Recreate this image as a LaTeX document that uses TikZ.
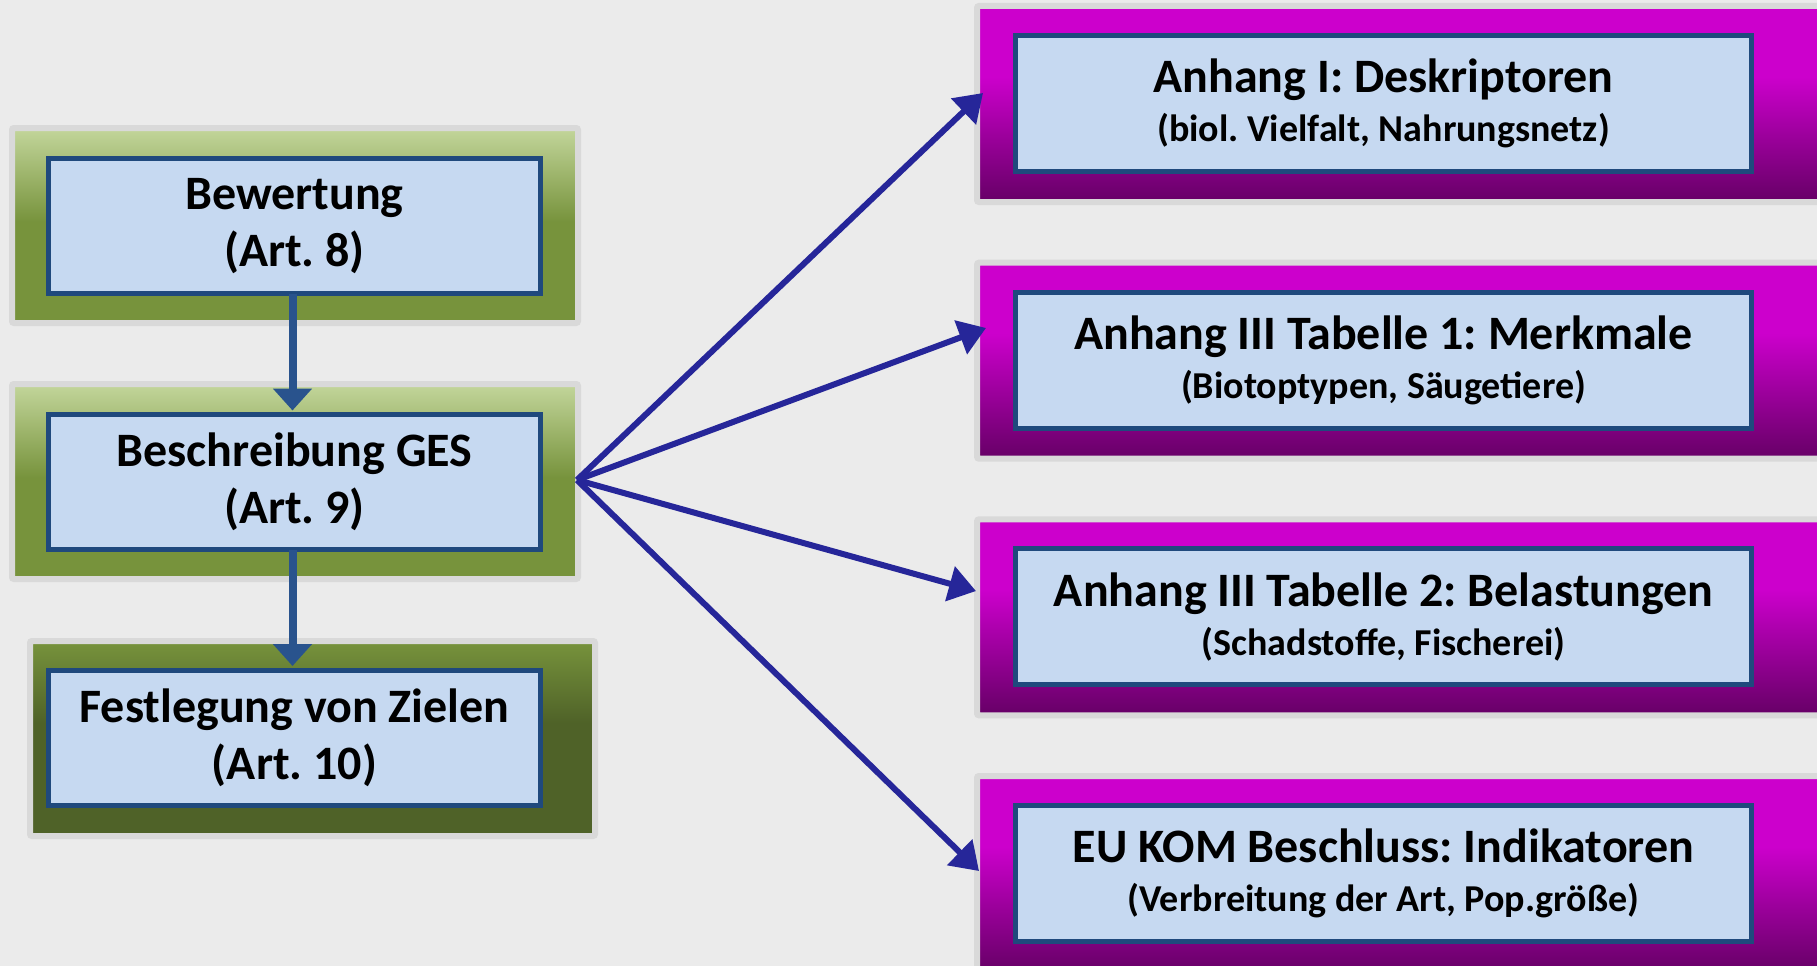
\documentclass[tikz,border=0pt]{standalone}
\usepackage{fontspec}
\setmainfont{Carlito}
\usetikzlibrary{arrows.meta}
\frenchspacing
\definecolor{bg}{HTML}{EBEBEB}
\definecolor{shadowgrey}{HTML}{D9D9D9}
\definecolor{innerfill}{HTML}{C6D9F1}
\definecolor{innerblue}{HTML}{1F497D}
\definecolor{glight}{HTML}{C3D69B}
\definecolor{gmid}{HTML}{77933C}
\definecolor{gdark}{HTML}{4F6228}
\definecolor{mtop}{HTML}{CC00CC}
\definecolor{mbot}{HTML}{660066}
\definecolor{varrowc}{HTML}{29538D}
\definecolor{darrowc}{HTML}{262699}
\pgfdeclareverticalshading{greenA}{100bp}{color(0bp)=(gmid); color(25bp)=(gmid); color(51bp)=(gmid); color(75bp)=(glight); color(100bp)=(glight)}
\pgfdeclareverticalshading{greenB}{100bp}{color(0bp)=(gdark); color(25bp)=(gdark); color(54bp)=(gdark); color(75bp)=(gmid); color(100bp)=(gmid)}
\pgfdeclareverticalshading{magshade}{100bp}{color(0bp)=(mbot); color(25bp)=(mbot); color(57bp)=(mtop); color(75bp)=(mtop); color(100bp)=(mtop)}
\tikzset{
  outerbox/.style={draw=shadowgrey, line width=6pt, rounded corners=2pt, outer sep=0pt, inner sep=0pt, shade},
  greenbox/.style={outerbox, shading=greenA, minimum width=566pt, minimum height=195pt},
  darkgreenbox/.style={outerbox, shading=greenB, minimum width=565pt, minimum height=195pt},
  magbox/.style={outerbox, shading=magshade, minimum width=923pt, minimum height=196pt},
  innerbox/.style={draw=innerblue, fill=innerfill, line width=5pt, outer sep=0pt, inner sep=0pt, align=center, text=black},
  leftbox/.style={innerbox, minimum width=492pt, minimum height=135pt, font=\bfseries\fontsize{48}{57}\selectfont},
  rightbox/.style={innerbox, minimum width=736pt, minimum height=136pt, font=\bfseries\fontsize{48}{49}\selectfont},
  varrow/.style={draw=varrowc, line width=8pt, -{Triangle[length=22pt,width=38pt]}},
  darrow/.style={draw=darrowc, line width=6pt, -{Triangle[length=27pt,width=35pt]}}
}
\newcommand{\subline}[1]{{\fontsize{38}{49}\selectfont #1}}
\begin{document}
\begin{tikzpicture}[x=1pt,y=-1pt]
\useasboundingbox (0,0) rectangle (1817,966);
\clip (0,0) rectangle (1817,966);
\fill[bg] (0,0) rectangle (1817,966);

% left column
\node[greenbox] (g1) at (295,225.5) {};
\node[greenbox] (g2) at (295,481.5) {};
\node[darkgreenbox] (g3) at (312.5,738.5) {};
\node[leftbox] (i1) at (294.5,226) {Bewertung\\(Art. 8)};
\node[leftbox] (i2) at (294.5,482) {Beschreibung GES\\(Art. 9)};
\node[leftbox] (i3) at (294.5,737.5) {Festlegung von Zielen\\(Art. 10)};
\draw[varrow] ([xshift=-2pt]i1.south) -- ([xshift=-2pt,yshift=4pt]i2.north);
\draw[varrow] ([xshift=-2pt]i2.south) -- ([xshift=-2pt,yshift=4pt]i3.north);

% right column
\node[magbox] (mA) at (1438.5,104) {};
\node[magbox] (mB) at (1438.5,360.67) {};
\node[magbox] (mC) at (1438.5,617.33) {};
\node[magbox] (mD) at (1438.5,874) {};
\node[rightbox] (rA) at (1383.5,103.5) {Anhang I: Deskriptoren\\\subline{(biol. Vielfalt, Nahrungsnetz)}};
\node[rightbox] (rB) at (1383.5,360.17) {Anhang III Tabelle 1: Merkmale\\\subline{(Biotoptypen, Säugetiere)}};
\node[rightbox] (rC) at (1383.5,616.83) {Anhang III Tabelle 2: Belastungen\\\subline{(Schadstoffe, Fischerei)}};
\node[rightbox] (rD) at (1383.5,873.5) {EU KOM Beschluss: Indikatoren\\\subline{(Verbreitung der Art, Pop.größe)}};

% diagonal arrows
\coordinate (src) at ([xshift=-1pt,yshift=1.5pt]g2.east);
\draw[darrow] (src) -- ([xshift=6pt,yshift=11pt]mA.west);
\draw[darrow] (src) -- ([xshift=9pt,yshift=32.7pt]mB.west);
\draw[darrow] (src) -- ([xshift=-1pt,yshift=26.3pt]mC.west);
\draw[darrow] (src) -- ([xshift=2pt,yshift=3pt]mD.west);
\end{tikzpicture}
\end{document}
